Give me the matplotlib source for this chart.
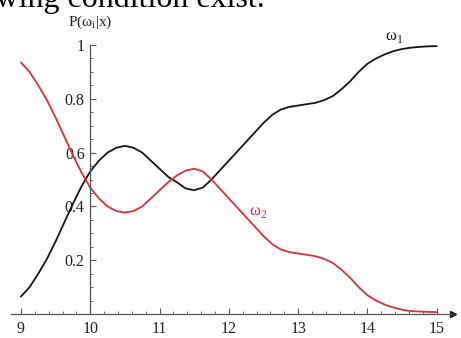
import matplotlib
matplotlib.use("Agg")
import matplotlib.pyplot as plt
from matplotlib.ticker import MultipleLocator, FixedLocator

x_vals = [9.0, 9.125, 9.25, 9.375, 9.5, 9.625, 9.75, 9.875,
          10.0, 10.125, 10.25, 10.375, 10.5, 10.625, 10.75, 10.875,
          11.0, 11.125, 11.25, 11.375, 11.5, 11.625, 11.75, 11.875,
          12.0, 12.125, 12.25, 12.375, 12.5, 12.625, 12.75, 12.875,
          13.0, 13.125, 13.25, 13.375, 13.5, 13.625, 13.75, 13.875,
          14.0, 14.125, 14.25, 14.375, 14.5, 14.625, 14.75, 14.875, 15.0]
omega1 = [0.065, 0.10, 0.15, 0.205, 0.27, 0.34, 0.41, 0.475,
          0.53, 0.57, 0.60, 0.618, 0.625, 0.618, 0.60, 0.57,
          0.54, 0.51, 0.49, 0.467, 0.46, 0.47, 0.50, 0.535,
          0.57, 0.605, 0.64, 0.675, 0.71, 0.74, 0.76, 0.77,
          0.775, 0.78, 0.785, 0.795, 0.81, 0.835, 0.865, 0.90,
          0.93, 0.95, 0.965, 0.977, 0.985, 0.99, 0.993, 0.995, 0.996]
omega2 = [0.935, 0.90, 0.85, 0.795, 0.73, 0.66, 0.59, 0.525,
          0.47, 0.43, 0.40, 0.383, 0.377, 0.383, 0.40, 0.43,
          0.46, 0.49, 0.515, 0.533, 0.54, 0.53, 0.50, 0.465,
          0.43, 0.395, 0.36, 0.325, 0.29, 0.26, 0.24, 0.23,
          0.225, 0.22, 0.215, 0.205, 0.19, 0.165, 0.135, 0.10,
          0.07, 0.05, 0.035, 0.024, 0.016, 0.011, 0.009, 0.008, 0.007]
x_ticks = [9, 10, 11, 12, 13, 14, 15]
y_ticks = [0.2, 0.4, 0.6, 0.8, 1.0]
y_tick_labels = ["0.2", "0.4", "0.6", "0.8", "1"]

serif = ["Liberation Serif", "DejaVu Serif"]
W, H = 461, 338
fig = plt.figure(figsize=(W / 100, H / 100), dpi=100)
ax = fig.add_axes([11 / W, (H - 314) / H, 442 / W, 274 / H])
ax.set_xlim(8.856, 15.236)
ax.set_ylim(0, 274 / 269)

black = "#151515"
red = "#d9303c"
axis_col = "#555555"
ax.plot(x_vals, omega1, color=black, lw=1.3, solid_capstyle="round",
        solid_joinstyle="round")
ax.plot(x_vals, omega2, color=red, lw=1.3, solid_capstyle="round",
        solid_joinstyle="round")

for s in ["top", "right"]:
    ax.spines[s].set_visible(False)
ax.spines["left"].set_position(("data", 10))
ax.spines["bottom"].set_position(("data", 0))
ax.spines["left"].set_bounds(0, 1.0)
for s in ["left", "bottom"]:
    ax.spines[s].set_color(axis_col)
    ax.spines[s].set_linewidth(0.9)

ax.xaxis.set_major_locator(FixedLocator(x_ticks))
ax.xaxis.set_minor_locator(MultipleLocator(0.2))
ax.yaxis.set_major_locator(FixedLocator(y_ticks))
ax.yaxis.set_minor_locator(MultipleLocator(0.05))
ax.set_xticklabels([str(t) for t in x_ticks])
ax.set_yticklabels(y_tick_labels)
ax.tick_params(which="both", direction="in", color=axis_col, labelcolor="#222222")
ax.tick_params(which="major", length=4, width=0.8)
ax.tick_params(which="minor", length=2, width=0.6)
ax.tick_params(axis="x", pad=5)
ax.tick_params(axis="y", pad=4)
for lab in ax.get_xticklabels() + ax.get_yticklabels():
    lab.set_family(serif)
    lab.set_fontsize(11.5)

# arrow at end of x-axis
ax.plot([15.236], [0], marker=">", color=black, markersize=5, clip_on=False)

ax.text(10.0, 1.085, "P(ω$_\\mathregular{i}$|x)", family=serif, fontsize=11,
        ha="center", va="center", color="#222222", clip_on=False)
ax.text(14.38, 1.03, "ω$_\\mathregular{1}$", family=serif, fontsize=12,
        ha="center", va="center", color=black)
ax.text(12.42, 0.38, "ω$_\\mathregular{2}$", family=serif, fontsize=12,
        ha="center", va="center", color=red)

fig.text(265 / W, (H - 7) / H, "following condition exist.", family=serif,
         fontsize=23, ha="right", va="baseline", color="black")

fig.savefig("out.png", dpi=100)
